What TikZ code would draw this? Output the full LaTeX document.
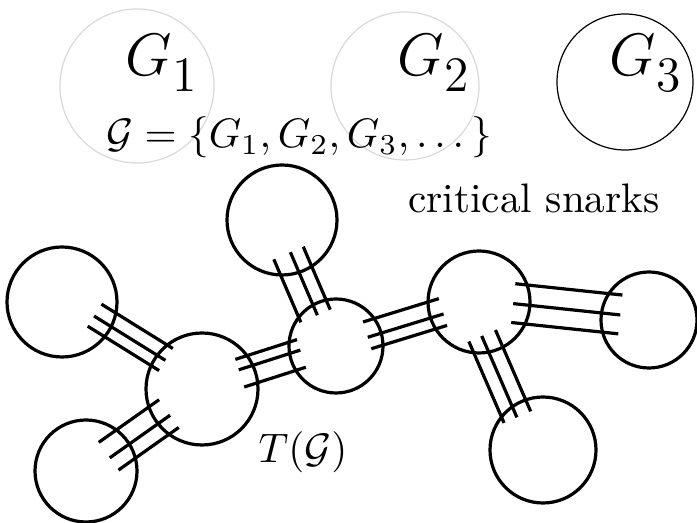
\RequirePackage{fix-cm}
\documentclass[tikz,border=0pt]{standalone}
\usepackage{amsmath,amssymb}
\usepackage{tikz}
\usetikzlibrary{calc}

\tikzset{
  snark/.style={circle, draw, line width=0.8pt, inner sep=0pt},
  critical/.style={circle, draw, line width=0.3pt, inner sep=0pt},
  bondline/.style={line width=0.8pt},
  biglabel/.style={anchor=base west, inner sep=0pt, font=\fontsize{15}{18}\selectfont},
}
% label of a critical snark, with its large dropped index
\newcommand{\snarkname}[1]{$G$\raisebox{-4pt}{\fontsize{12.4}{14}\selectfont$#1$}}
% three parallel edges between two snarks
\newcommand{\bond}[5]{%
  \foreach \off in {#5}
    \draw[bondline] ($(#1)!#3!(#2)!\off pt!-90:(#2)$) -- ($(#1)!#4!(#2)!\off pt!-90:(#2)$);}

\begin{document}
\begin{tikzpicture}[x=0.25pt, y=-0.25pt, font=\fontsize{10.3}{12.5}\selectfont]
\useasboundingbox (0,0) rectangle (697,523);
% the family of critical snarks
\node[critical, draw=gray!30, minimum size=38.5pt] (g1) at (137,86) {};
\node[critical, draw=gray!30, minimum size=37pt] (g2) at (405,86) {};
\node[critical, minimum size=34pt] (g3) at (625,82) {};
\node[biglabel] (l1) at (125,76) {\snarkname{1}};
\node[biglabel] (l2) at (397,76) {\snarkname{2}};
\node[biglabel] (l3) at (609,76) {\snarkname{3}};
\node[anchor=base] (family) at (299,148) {$\mathcal{G}=\{G_1,G_2,G_3,\dots\}$};
\node[anchor=base] (crit) at (534,213) {critical snarks};
% the tree T(G)
\node[snark, minimum size=27.5pt] (a) at (62,302) {};
\node[snark, minimum size=25.5pt] (b) at (86,471) {};
\node[snark, minimum size=28pt] (c) at (202,389) {};
\node[snark, minimum size=27.5pt] (d) at (282,220) {};
\node[snark, minimum size=23.5pt] (e) at (336,346) {};
\node[snark, minimum size=25.5pt] (f) at (479,302) {};
\node[snark, minimum size=24pt] (g) at (649,320) {};
\node[snark, minimum size=26.5pt] (h) at (543,450) {};
\bond{a}{c}{0.21}{0.72}{-4.75,-1.25,1.75}
\bond{b}{c}{0.19}{0.71}{-4,0.75,4.5}
\bond{c}{e}{0.29}{0.75}{-4.5,-1.75,2.75}
\bond{d}{e}{0.24}{0.74}{5.75,1.25,-2.25}
\bond{e}{f}{0.22}{0.75}{-3.75,0.25,3.25}
\bond{f}{g}{0.2}{0.83}{-5.5,-0.5,4.25}
\bond{f}{h}{0.2}{0.75}{6.25,2.75,-1}
\node[anchor=base] (tree) at (303,463) {$T(\mathcal{G})$};
\end{tikzpicture}
\end{document}
